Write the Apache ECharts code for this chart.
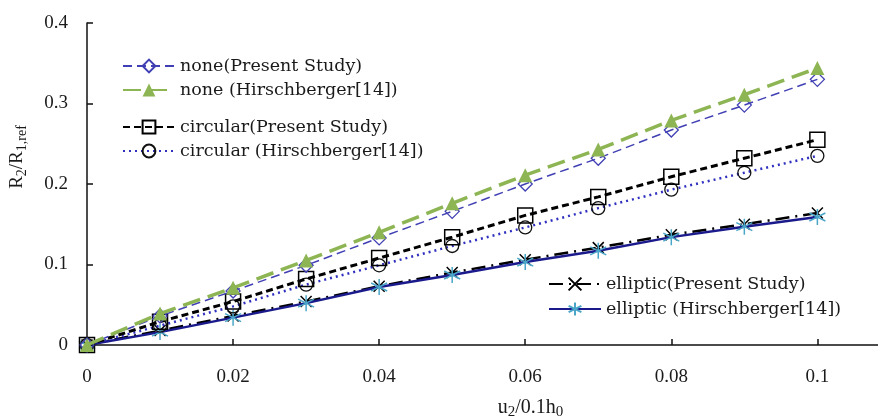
<!DOCTYPE html>
<html><head><meta charset="utf-8">
<script src="https://cdn.jsdelivr.net/npm/echarts@6/dist/echarts.min.js"></script>
<style>html,body{margin:0;padding:0;background:#fff}#c{width:878px;height:419px}</style>
</head><body><div id="c"></div>
<script>
const xs = [0, 0.01, 0.02, 0.03, 0.04, 0.05, 0.06, 0.07, 0.08, 0.09, 0.1];
const nonePresent = [0, 0.036, 0.067, 0.099, 0.133, 0.166, 0.200, 0.232, 0.267, 0.298, 0.330];
const noneHirsch = [0, 0.039, 0.071, 0.105, 0.140, 0.176, 0.211, 0.243, 0.279, 0.311, 0.344];
const circPresent = [0, 0.029, 0.054, 0.082, 0.108, 0.134, 0.161, 0.184, 0.209, 0.232, 0.255];
const circHirsch = [0, 0.024, 0.048, 0.075, 0.099, 0.123, 0.146, 0.170, 0.193, 0.214, 0.235];
const ellPresent = [0, 0.018, 0.036, 0.054, 0.073, 0.090, 0.106, 0.121, 0.137, 0.150, 0.164];
const ellHirsch = [0, 0.016, 0.034, 0.052, 0.072, 0.087, 0.103, 0.117, 0.134, 0.147, 0.159];
const names = ['none(Present Study)', 'none (Hirschberger[14])', 'circular(Present Study)', 'circular (Hirschberger[14])', 'elliptic(Present Study)', 'elliptic (Hirschberger[14])'];

const pts = ys => xs.map((x, i) => [x, ys[i]]);
const FONT = '"Liberation Serif", "DejaVu Serif", serif';
const LFONT = '"DejaVu Serif", serif';
const xPath = 'path://M0,0L10,10M10,0L0,10';
const starPath = 'path://M5,0L5,10M0.7,2.5L9.3,7.5M0.7,7.5L9.3,2.5';

const chart = echarts.init(document.getElementById('c'));
const legendBase = {orient: 'vertical', itemWidth: 52, itemHeight: 16, itemGap: 6, padding: 0,
  textStyle: {fontFamily: LFONT, fontSize: 17.5, color: '#1a1a1a'}};
chart.setOption({
  animation: false,
  grid: {left: 87, right: 0, top: 23, bottom: 74, containLabel: false, outerBoundsMode: 'none'},
  legend: [
    Object.assign({}, legendBase, {left: 122, top: 57, data: [names[0], names[1]]}),
    Object.assign({}, legendBase, {left: 122, top: 118, data: [names[2], names[3]]}),
    Object.assign({}, legendBase, {left: 548, top: 275, itemGap: 7, data: [names[4], names[5]]})
  ],
  xAxis: {
    type: 'value', min: 0, max: 0.1083, interval: 0.02,
    axisLine: {lineStyle: {color: '#111', width: 1.5}},
    axisTick: {inside: true, length: 6, lineStyle: {color: '#111', width: 1.5}},
    splitLine: {show: false},
    axisLabel: {showMaxLabel: false, margin: 23, fontFamily: FONT, fontSize: 19, color: '#1a1a1a',
      formatter: v => (Math.abs(v / 0.02 - Math.round(v / 0.02)) < 1e-6 ? String(+v.toFixed(2)) : '')},
    name: '{n|u}{s|2}{n|/0.1h}{s|0}', nameLocation: 'middle', nameGap: 51,
    nameTextStyle: {padding: [0, 0, 0, 96], rich: {
      n: {fontFamily: FONT, fontSize: 20, color: '#1a1a1a'},
      s: {fontFamily: FONT, fontSize: 15, color: '#1a1a1a', verticalAlign: 'bottom', padding: [9, 0, 0, 0]}}}
  },
  yAxis: {
    type: 'value', min: 0, max: 0.4, interval: 0.1,
    axisLine: {show: true, lineStyle: {color: '#111', width: 1.5}},
    axisTick: {show: true, inside: true, length: 6, lineStyle: {color: '#111', width: 1.5}},
    splitLine: {show: false},
    axisLabel: {margin: 19, fontFamily: FONT, fontSize: 19, color: '#1a1a1a'},
    name: '{n|R}{s|2}{n|/R}{s|1,ref}', nameLocation: 'middle', nameGap: 58, nameRotate: 90,
    nameTextStyle: {padding: [0, 0, 0, 54], rich: {
      n: {fontFamily: FONT, fontSize: 19, color: '#1a1a1a'},
      s: {fontFamily: FONT, fontSize: 14, color: '#1a1a1a', verticalAlign: 'bottom', padding: [9, 0, 0, 0]}}}
  },
  series: [
    {name: names[4], type: 'line', data: pts(ellPresent), clip: false, z: 2,
      symbol: xPath, symbolSize: 11,
      lineStyle: {color: '#000', width: 2.5, type: [14, 6, 2, 6]},
      itemStyle: {color: 'none', borderColor: '#000', borderWidth: 1.5}},
    {name: names[5], type: 'line', data: pts(ellHirsch), clip: false, z: 3,
      symbol: starPath, symbolSize: 16,
      lineStyle: {color: '#1a1a8c', width: 2.5, type: 'solid'},
      itemStyle: {color: 'none', borderColor: '#4aa6c8', borderWidth: 1.5}},
    {name: names[3], type: 'line', data: pts(circHirsch), clip: false, z: 4,
      symbol: 'circle', symbolSize: 13,
      lineStyle: {color: '#3030c0', width: 2.5, type: [2, 4]},
      itemStyle: {color: 'none', borderColor: '#111', borderWidth: 1.3}},
    {name: names[2], type: 'line', data: pts(circPresent), clip: false, z: 5,
      symbol: 'rect', symbolSize: 15,
      lineStyle: {color: '#000', width: 3, type: [7, 4]},
      itemStyle: {color: 'none', borderColor: '#000', borderWidth: 1.5}},
    {name: names[0], type: 'line', data: pts(nonePresent), clip: false, z: 6,
      symbol: 'diamond', symbolSize: 14,
      lineStyle: {color: '#4040b4', width: 1.5, type: [9, 5]},
      itemStyle: {color: 'none', borderColor: '#4040b4', borderWidth: 1.3}},
    {name: names[1], type: 'line', data: pts(noneHirsch), clip: false, z: 7,
      symbol: 'triangle', symbolSize: 14,
      lineStyle: {color: '#8db553', width: 3.5, type: [18, 8]},
      itemStyle: {color: '#8db553', borderColor: '#8db553', borderWidth: 0}}
  ]
});
</script></body></html>
